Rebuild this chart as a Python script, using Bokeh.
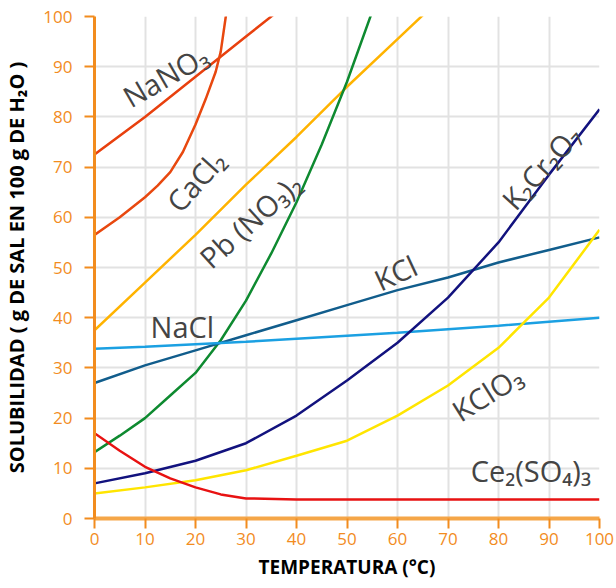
import math
from bokeh.plotting import figure
from bokeh.embed import file_html
from bokeh.resources import INLINE
from bokeh.models import FixedTicker
from bokeh.core.properties import value

# ---- data (temperature °C, solubility g / 100 g H2O) ----
nano3_t = [0, 10, 20, 30, 40]
nano3_s = [72.5, 80, 88, 96, 104]

cacl2_t = [0, 5, 10, 12.5, 15, 17.5, 20, 22, 24, 25, 26, 27]
cacl2_s = [56.5, 60, 64, 66.3, 69, 73, 78.5, 83.5, 89, 93, 100, 108]

pbno3_t = [0, 10, 20, 30, 40, 50, 60, 70]
pbno3_s = [37.5, 47, 56.5, 66.5, 76, 86, 95.5, 105]

kno3_t = [0, 5, 10, 15, 20, 25, 30, 35, 40, 45, 50, 55]
kno3_s = [13.2, 16.5, 20, 24.5, 29, 35.5, 43.4, 52.8, 63, 74.5, 87, 101]

kcl_t = [0, 10, 20, 30, 40, 50, 60, 70, 80, 90, 100]
kcl_s = [27, 30.5, 33.5, 36.5, 39.5, 42.5, 45.5, 48, 51, 53.5, 56]

nacl_t = [0, 10, 20, 30, 40, 50, 60, 70, 80, 90, 100]
nacl_s = [33.8, 34.2, 34.7, 35.2, 35.8, 36.4, 37, 37.7, 38.4, 39.2, 40]

k2cr2o7_t = [0, 10, 20, 30, 40, 50, 60, 70, 80, 90, 100]
k2cr2o7_s = [7, 9, 11.5, 15, 20.5, 27.5, 35, 44, 55, 68.5, 81.5]

kclo3_t = [0, 10, 20, 30, 40, 50, 60, 70, 80, 85, 90, 100]
kclo3_s = [5, 6.2, 7.6, 9.6, 12.5, 15.5, 20.5, 26.5, 34, 39, 44, 57.5]

ce_t = [0, 5, 10, 15, 20, 25, 30, 40, 50, 60, 70, 80, 90, 100]
ce_s = [17, 13.5, 10.3, 8, 6.2, 4.8, 4, 3.8, 3.8, 3.8, 3.8, 3.8, 3.8, 3.8]

x_ticks = [0, 10, 20, 30, 40, 50, 60, 70, 80, 90, 100]
y_ticks = [0, 10, 20, 30, 40, 50, 60, 70, 80, 90, 100]

label_texts = ["NaNO₃", "CaCl₂", "Pb (NO₃)₂", "KCl", "K₂Cr₂O₇", "KClO₃"]
label_x = [14, 20, 30.8, 59.6, 88.4, 77.7]
label_y = [88.2, 67.3, 59.4, 49, 70, 25]
label_angle_deg = [30, 48, 42, 25, 48, 32]

flat_texts = ["NaCl", "Ce₂(SO₄)₃"]
flat_x = [17.4, 86.4]
flat_y = [38.2, 9.6]

ORANGE = "#f28c1e"

p = figure(width=616, height=588, x_range=(0, 100), y_range=(0, 100),
           output_backend="svg", toolbar_location=None,
           min_border_left=92, min_border_right=17, min_border_top=16,
           min_border_bottom=70)
p.outline_line_color = None
p.background_fill_color = "white"

for g in (p.xgrid, p.ygrid):
    g.grid_line_color = "#e2e2e2"
    g.grid_line_width = 2

p.xaxis.ticker = FixedTicker(ticks=x_ticks)
p.yaxis.ticker = FixedTicker(ticks=y_ticks)

for ax in (p.xaxis, p.yaxis):
    ax.axis_line_color = ORANGE
    ax.major_tick_line_color = ORANGE
    ax.major_tick_line_width = 2
    ax.major_tick_out = 10
    ax.major_tick_in = 0
    ax.minor_tick_line_color = None
    ax.major_label_text_color = ORANGE
    ax.major_label_text_font = "Open Sans"
    ax.major_label_text_font_size = "17px"
    ax.axis_label_text_font = "Open Sans"
    ax.axis_label_text_font_style = "bold"
    ax.axis_label_text_color = "black"

p.xaxis.axis_line_width = 4
p.xaxis.axis_line_color = "#f5a648"
p.yaxis.axis_line_width = 3
p.xaxis.major_label_standoff = 4
p.yaxis.major_label_standoff = 12
p.xaxis.axis_label = "TEMPERATURA (°C)"
p.yaxis.axis_label = "SOLUBILIDAD ( g DE SAL EN 100 g DE H₂O )"
p.xaxis.axis_label_text_font_size = "19px"
p.yaxis.axis_label_text_font_size = "20px"
p.xaxis.axis_label_standoff = 6
p.yaxis.axis_label_standoff = 10

lw = 2.5
p.line(nano3_t, nano3_s, line_color="#e8400e", line_width=lw)
p.line(cacl2_t, cacl2_s, line_color="#e8480f", line_width=lw)
p.line(pbno3_t, pbno3_s, line_color="#ffb300", line_width=lw)
p.line(kno3_t, kno3_s, line_color="#0e8a30", line_width=lw)
p.line(kcl_t, kcl_s, line_color="#115d8c", line_width=lw)
p.line(nacl_t, nacl_s, line_color="#1ba0e2", line_width=lw)
p.line(k2cr2o7_t, k2cr2o7_s, line_color="#12127e", line_width=lw)
p.line(kclo3_t, kclo3_s, line_color="#ffe500", line_width=lw)
p.line(ce_t, ce_s, line_color="#e81212", line_width=lw)

p.text(x=label_x, y=label_y, text=label_texts,
       angle=[math.radians(a) for a in label_angle_deg],
       text_align="center", text_baseline="middle",
       text_font=value("Open Sans"), text_font_size="29px",
       text_color="#444444")
p.text(x=flat_x, y=flat_y, text=flat_texts,
       text_align="center", text_baseline="middle",
       text_font=value("Open Sans"), text_font_size="29px",
       text_color="#444444")

open("out.html", "w").write(file_html(p, INLINE))
